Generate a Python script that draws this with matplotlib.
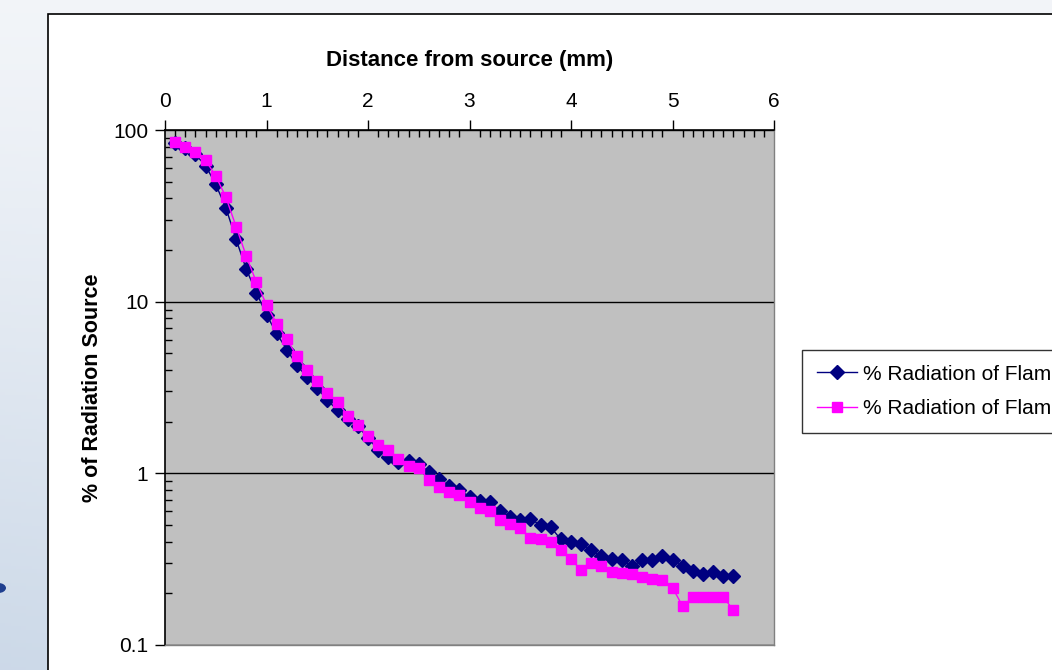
import numpy as np
import matplotlib.pyplot as plt
from matplotlib.patches import Rectangle, Circle
from matplotlib.ticker import FixedLocator, NullFormatter

plt.rcParams['font.family'] = ['Liberation Sans', 'DejaVu Sans']

# --- donnees ---
distance = np.round(np.arange(1, 57) * 0.1, 1)

flame_1 = [84, 79, 72, 62, 48.2, 35.2, 23.1, 15.5, 11.3, 8.4,
           6.53, 5.26, 4.25, 3.64, 3.14, 2.67, 2.33, 2.06, 1.88, 1.61,
           1.37, 1.24, 1.16, 1.18, 1.13, 1.02, 0.93, 0.84, 0.80, 0.73,
           0.69, 0.68, 0.60, 0.56, 0.537, 0.545, 0.497, 0.486, 0.412, 0.40,
           0.39, 0.356, 0.328, 0.318, 0.311, 0.288, 0.311, 0.311, 0.328, 0.314,
           0.29, 0.269, 0.258, 0.266, 0.252, 0.251]

flame_2 = [84.8, 80, 74, 66.6, 54, 40.6, 27.4, 18.5, 13.0, 9.6,
           7.46, 6.04, 4.81, 3.99, 3.45, 2.94, 2.61, 2.17, 1.92, 1.64,
           1.47, 1.36, 1.21, 1.10, 1.07, 0.92, 0.83, 0.78, 0.744, 0.68,
           0.63, 0.603, 0.537, 0.509, 0.48, 0.42, 0.416, 0.397, 0.36, 0.315,
           0.274, 0.30, 0.287, 0.268, 0.262, 0.258, 0.25, 0.243, 0.238, 0.216,
           0.168, 0.19, 0.19, 0.19, 0.19, 0.16]

labels = ['% Radiation of Flame 1', '% Radiation of Flame 2']

W, H = 1052, 670
fig = plt.figure(figsize=(W / 100, H / 100), dpi=100)

# fond de diapositive (degrade)
bg = fig.add_axes([0, 0, 1, 1])
bg.set_axis_off()
gy = np.linspace(0, 1, 200)[:, None]
gx = np.linspace(0, 1, 200)[None, :]
top = np.array([0.95, 0.96, 0.975])
bot = np.array([0.80, 0.85, 0.91])
t = (gy ** 1.2) * (1 - 0.4 * gx)
img = top[None, None, :] * (1 - t[..., None]) + bot[None, None, :] * t[..., None]
bg.imshow(img, extent=[0, 1, 0, 1], aspect='auto', origin='upper')
bg.set_xlim(0, 1)
bg.set_ylim(0, 1)

# zone du graphique (blanche)
fig.patches.append(Rectangle((48 / W, -0.01), 1.1, (670 - 14) / H + 0.01,
                             transform=fig.transFigure, facecolor='white',
                             edgecolor='black', linewidth=1.2, zorder=1))
fig.patches.append(Circle((-2 / W, 1 - 588 / H), 8 / W, transform=fig.transFigure,
                          facecolor='#1f3f8f', edgecolor='none', zorder=1))

left, right, topp, bottom = 165, 774, 130, 645
ax = fig.add_axes([left / W, (H - bottom) / H, (right - left) / W, (bottom - topp) / H])
ax.set_zorder(2)
ax.set_facecolor('#c0c0c0')

ax.plot(distance, flame_1, color='#000080', marker='D', markersize=7,
        linewidth=1, label=labels[0], zorder=3)
ax.plot(distance, flame_2, color='#ff00ff', marker='s', markersize=7.5,
        linewidth=1, label=labels[1], zorder=4)

ax.set_yscale('log')
ax.set_ylim(0.1, 100)
ax.set_xlim(0, 6)

ax.xaxis.set_ticks_position('top')
ax.xaxis.set_label_position('top')
ax.set_xticks(range(7))
ax.set_xticks(np.arange(0, 6.01, 0.1), minor=True)
ax.tick_params(axis='x', which='major', direction='out', length=7, width=1,
               labelsize=15, pad=6.5)
ax.tick_params(axis='x', which='minor', direction='in', length=5, width=1)

ax.yaxis.set_major_locator(FixedLocator([0.1, 1, 10, 100]))
ax.set_yticklabels(['0.1', '1', '10', '100'])
minors = [m * 10.0 ** e for e in (-1, 0, 1) for m in range(2, 10)]
ax.yaxis.set_minor_locator(FixedLocator(minors))
ax.yaxis.set_minor_formatter(NullFormatter())
ax.tick_params(axis='y', which='major', direction='out', length=7, width=1,
               labelsize=15, pad=5)
ax.tick_params(axis='y', which='minor', direction='in', length=5, width=1)

ax.grid(True, which='major', axis='y', color='black', linewidth=1)
for s in ['top', 'left']:
    ax.spines[s].set_color('black')
    ax.spines[s].set_linewidth(1.2)
for s in ['bottom', 'right']:
    ax.spines[s].set_color('#808080')
    ax.spines[s].set_linewidth(1)

ax.set_xlabel('Distance from source (mm)', fontsize=16, fontweight='bold', labelpad=19)
ax.set_ylabel('% of Radiation Source', fontsize=15.5, fontweight='bold', labelpad=7)

# legende coupee au bord droit, comme sur l'original
leg = fig.legend(loc='upper left', bbox_to_anchor=(802 / W, 1 - 350 / H),
                 fontsize=15, frameon=True, fancybox=False, handlelength=1.96,
                 borderpad=0.7, labelspacing=0.75, handletextpad=0.25,
                 borderaxespad=0)
leg.get_frame().set_edgecolor('black')
leg.get_frame().set_linewidth(1)
for h in leg.legend_handles:
    h.set_markersize(7)

fig.savefig('out.png', dpi=100)
